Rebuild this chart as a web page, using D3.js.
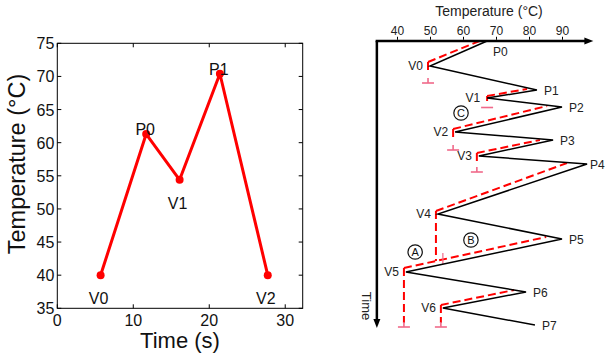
<!DOCTYPE html>
<html><head><meta charset="utf-8">
<script src="https://cdn.jsdelivr.net/npm/d3@7"></script>
<style>body{margin:0;background:#fff} svg{display:block} text{font-family:"Liberation Sans",Arial,Helvetica,sans-serif}</style>
</head><body><svg id="c" width="606" height="358"></svg>
<script>
// ---------- Left chart data ----------
const leftTimes  = [5.7, 11.7, 16.1, 21.4, 27.7];
const leftTemps  = [40, 61.3, 54.4, 70.4, 40];
const leftLabels = ["V0", "P0", "V1", "P1", "V2"];
const leftXTicks = [0, 10, 20, 30];
const leftYTicks = [35, 40, 45, 50, 55, 60, 65, 70, 75];

// ---------- Right diagram data ----------
const zigLabels = ["P0","V0","P1","V1","P2","V2","P3","V3","P4","V4","P5","V5","P6","V6","P7"];
const zigTemps  = [67.3, 50.0, 82.4, 67.3, 90.0, 57.6, 87.3, 64.8, 97.6, 52.4, 90.0, 42.7, 79.1, 53.9, 81.8];
const zigTimes  = [0, 25, 49, 57, 66, 91, 99, 115, 123, 173, 198, 231, 251, 267, 284];
const rightTicks = [40, 50, 60, 70, 80, 90];
const rightTempExtent = [33.9, 99.5];
const rightTimeExtent = [0, 287];

// red dashed rate lines: valley start -> near previous peak
const rateStartTemp = [49.4, 67.3, 57.0, 64.2, 51.8, 42.1, 53.3];
const rateStartTime = [21, 55, 88, 112, 170, 227, 264];
const rateEndTemp   = [65.0, 79.4, 85.5, 83.3, 91.5, 85.2, 75.5];
const rateEndTime   = [0, 48, 65, 99, 122, 196, 249];
// vertical dashed drops from each valley marker
const dropEndTime = [29, 60, 96, 121, 220, 282, 282];
const capTime     = [42, 66.5, 109, 131, null, 286, 286];
const capTick     = [5, 0, 5, 5, 0, 5, 5];
// circled annotations
const circLetters = ["A", "B", "C"];
const circTemps   = [45.5, 62.4, 59.4];
const circTimes   = [211, 199, 72];
// small pink marker near V4 drop
const markTemp = 53.9, markTimes = [212, 223];

const svg = d3.select("#c");

// ================= LEFT CHART =================
const xL = d3.scaleLinear().domain([0, 32.3]).range([57.3, 302.7]);
const yL = d3.scaleLinear().domain([35, 75]).range([308.3, 43.3]);
const gL = svg.append("g");

gL.append("rect").attr("x", xL(0)).attr("y", yL(75))
  .attr("width", xL(32.3) - xL(0)).attr("height", yL(35) - yL(75))
  .attr("fill", "none").attr("stroke", "#000").attr("stroke-width", 1);

// ticks (inward, mirrored)
const tl = 4;
leftXTicks.forEach(v => {
  gL.append("line").attr("x1", xL(v)).attr("x2", xL(v)).attr("y1", yL(35)).attr("y2", yL(35) - tl).attr("stroke", "#000");
  gL.append("line").attr("x1", xL(v)).attr("x2", xL(v)).attr("y1", yL(75)).attr("y2", yL(75) + tl).attr("stroke", "#000");
  gL.append("text").attr("x", xL(v)).attr("y", yL(35) + 18).attr("text-anchor", "middle")
    .attr("font-size", 16).attr("fill", "#111").text(v);
});
leftYTicks.forEach(v => {
  gL.append("line").attr("x1", xL(0)).attr("x2", xL(0) + tl).attr("y1", yL(v)).attr("y2", yL(v)).attr("stroke", "#000");
  gL.append("line").attr("x1", xL(32.3)).attr("x2", xL(32.3) - tl).attr("y1", yL(v)).attr("y2", yL(v)).attr("stroke", "#000");
  gL.append("text").attr("x", xL(0) - 3).attr("y", yL(v) + 6).attr("text-anchor", "end")
    .attr("font-size", 16).attr("fill", "#111").text(v);
});

gL.append("text").attr("x", 180).attr("y", 348).attr("text-anchor", "middle")
  .attr("font-size", 22).attr("fill", "#111").text("Time (s)");
gL.append("text").attr("transform", "translate(25,164) rotate(-90)").attr("text-anchor", "middle")
  .attr("font-size", 23.5).attr("fill", "#111").text("Temperature (°C)");

const leftPts = leftTimes.map((t, i) => [t, leftTemps[i]]);
gL.append("path").datum(leftPts)
  .attr("d", d3.line().x(d => xL(d[0])).y(d => yL(d[1])))
  .attr("fill", "none").attr("stroke", "#ff0000").attr("stroke-width", 3).attr("stroke-linejoin", "round");
gL.selectAll("circle.pt").data(leftPts).enter().append("circle")
  .attr("cx", d => xL(d[0])).attr("cy", d => yL(d[1])).attr("r", 4).attr("fill", "#ff0000");
leftPts.forEach((d, i) => {
  const isP = leftLabels[i][0] === "P";
  gL.append("text").attr("x", xL(d[0]) - (isP ? 1 : 2)).attr("y", yL(d[1]) + (isP ? 1 : 29))
    .attr("text-anchor", "middle").attr("font-size", 16).attr("fill", "#111").text(leftLabels[i]);
});

// ================= RIGHT DIAGRAM =================
const xR = d3.scaleLinear().domain([40, 90]).range([397, 562]);
const yR = d3.scaleLinear().domain([0, 287]).range([41, 328]);
const gR = svg.append("g");

const red = "#ff0000", pink = "#f06a8a";

// rate lines
rateStartTemp.forEach((_, i) => {
  gR.append("line")
    .attr("x1", xR(rateStartTemp[i])).attr("y1", yR(rateStartTime[i]))
    .attr("x2", xR(rateEndTemp[i])).attr("y2", yR(rateEndTime[i]))
    .attr("stroke", red).attr("stroke-width", 2).attr("stroke-dasharray", "8,4");
  gR.append("line")
    .attr("x1", xR(rateStartTemp[i])).attr("y1", yR(rateStartTime[i]))
    .attr("x2", xR(rateStartTemp[i])).attr("y2", yR(dropEndTime[i]))
    .attr("stroke", red).attr("stroke-width", 2).attr("stroke-dasharray", "8,4");
  if (capTime[i] !== null) {
    const cx = xR(rateStartTemp[i]), cy = yR(capTime[i]);
    gR.append("line").attr("x1", cx - 6).attr("x2", cx + 6).attr("y1", cy).attr("y2", cy)
      .attr("stroke", pink).attr("stroke-width", 1.6);
    if (capTick[i] > 0)
      gR.append("line").attr("x1", cx).attr("x2", cx).attr("y1", cy).attr("y2", cy - capTick[i])
        .attr("stroke", pink).attr("stroke-width", 1.6);
  }
});
gR.append("line").attr("x1", xR(markTemp)).attr("x2", xR(markTemp))
  .attr("y1", yR(markTimes[0])).attr("y2", yR(markTimes[1])).attr("stroke", pink).attr("stroke-width", 1.2);

// zigzag
const zig = zigTemps.map((t, i) => [t, zigTimes[i]]);
gR.append("path").datum(zig)
  .attr("d", d3.line().x(d => xR(d[0])).y(d => yR(d[1])))
  .attr("fill", "none").attr("stroke", "#000").attr("stroke-width", 1.5).attr("stroke-linejoin", "miter");

// axes
const ax0 = xR(rightTempExtent[0]), ay0 = yR(rightTimeExtent[0]);
const axEnd = xR(rightTempExtent[1]), ayEnd = yR(rightTimeExtent[1]);
gR.append("line").attr("x1", ax0 - 1.25).attr("x2", axEnd - 7).attr("y1", ay0).attr("y2", ay0)
  .attr("stroke", "#000").attr("stroke-width", 2.5);
gR.append("path").attr("d", `M${axEnd},${ay0} L${axEnd - 9},${ay0 - 3.5} L${axEnd - 9},${ay0 + 3.5} Z`).attr("fill", "#000");
gR.append("line").attr("x1", ax0).attr("x2", ax0).attr("y1", ay0).attr("y2", ayEnd - 7)
  .attr("stroke", "#000").attr("stroke-width", 2.5);
gR.append("path").attr("d", `M${ax0},${ayEnd} L${ax0 - 3.5},${ayEnd - 9} L${ax0 + 3.5},${ayEnd - 9} Z`).attr("fill", "#000");

const topAxis = gR.append("g").attr("transform", `translate(0,${ay0 - 1.25})`)
  .call(d3.axisTop(xR).tickValues(rightTicks).tickSize(3).tickPadding(2));
topAxis.select(".domain").remove();
topAxis.selectAll("text").attr("font-size", 12).attr("fill", "#222")
  .attr("font-family", '"Liberation Sans",Arial,sans-serif');
topAxis.selectAll("line").attr("stroke", "#000");

gR.append("text").attr("x", 489).attr("y", 16).attr("text-anchor", "middle")
  .attr("font-size", 14).attr("fill", "#222").text("Temperature (°C)");
gR.append("text").attr("transform", `translate(${ax0 - 15},306) rotate(90)`).attr("text-anchor", "middle")
  .attr("font-size", 13).attr("fill", "#222").text("Time");

// point labels
zig.forEach((d, i) => {
  const name = zigLabels[i];
  const x = xR(d[0]), y = yR(d[1]);
  const t = gR.append("text").attr("font-size", 12).attr("fill", "#222").text(name);
  if (name[0] === "P") {
    if (d[1] === 0) t.attr("x", x + 6).attr("y", y + 15);
    else t.attr("x", Math.min(x + 7, 605 - 15)).attr("y", y + 4.5);
  } else {
    t.attr("x", x - 7).attr("y", y + 4).attr("text-anchor", "end");
  }
});

// circled letters
circLetters.forEach((L, i) => {
  const cx = xR(circTemps[i]), cy = yR(circTimes[i]);
  gR.append("circle").attr("cx", cx).attr("cy", cy).attr("r", 7.2)
    .attr("fill", "none").attr("stroke", "#111").attr("stroke-width", 1.2);
  gR.append("text").attr("x", cx).attr("y", cy + 4).attr("text-anchor", "middle")
    .attr("font-size", 11).attr("fill", "#111").text(L);
});
</script></body></html>
